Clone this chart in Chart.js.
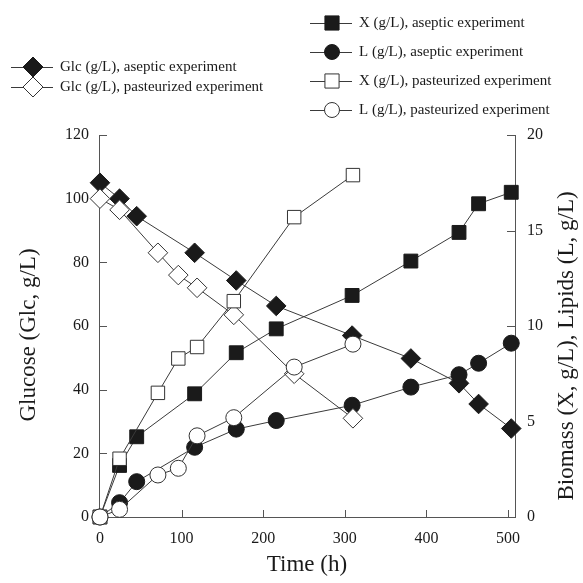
<!DOCTYPE html>
<html>
<head>
<meta charset="utf-8">
<script src="https://cdn.jsdelivr.net/npm/chart.js@4.4.1/dist/chart.umd.min.js"></script>
<style>
  html, body { margin: 0; padding: 0; background: #fff; }
  .chart__wrapper { width: 583px; height: 583px; }
</style>
</head>
<body>
<div class="chart__wrapper"><canvas id="fermentation-chart" width="583" height="583"></canvas></div>
<script>
  // sampling times (h)
  const asepticTime = [0, 24, 45, 116, 167, 216, 309, 381, 440, 464, 504];
  const pasteurizedTime = [0, 24, 71, 96, 119, 164, 238, 310];

  // aseptic experiment
  const glcAseptic = [105, 100, 94.5, 83, 74.3, 66.3, 57, 49.8, 42, 35.5, 27.8];
  const xAseptic = [0, 2.7, 4.2, 6.45, 8.6, 9.85, 11.6, 13.4, 14.9, 16.4, 17.0];
  const lAseptic = [0, 0.75, 1.85, 3.65, 4.6, 5.05, 5.85, 6.8, 7.45, 8.05, 9.1];

  // pasteurized experiment
  const glcPasteurized = [100, 96.5, 83, 76, 72, 63.5, 45, 31];
  const xPasteurized = [0, 3.05, 6.5, 8.3, 8.9, 11.3, 15.7, 17.9];
  const lPasteurized = [0, 0.4, 2.2, 2.55, 4.25, 5.2, 7.85, 9.05];

  const timeTicks = [0, 100, 200, 300, 400, 500];
  const glcTicks = [0, 20, 40, 60, 80, 100, 120];
  const biomassTicks = [0, 5, 10, 15, 20];

  const serif = '"Liberation Serif", "Times New Roman", serif';
  const ink = "#1a1a1a";
  const lineColor = "#3a3a3a";
  const axisColor = "#555";

  const toPoints = (times, values) => times.map((t, i) => ({ x: t, y: values[i] }));

  const series = [
    { label: "L (g/L), pasteurized experiment", data: toPoints(pasteurizedTime, lPasteurized), axis: "y1", style: "circle", radius: 8, filled: false },
    { label: "X (g/L), pasteurized experiment", data: toPoints(pasteurizedTime, xPasteurized), axis: "y1", style: "rect", radius: 9.5, filled: false },
    { label: "Glc (g/L), pasteurized experiment", data: toPoints(pasteurizedTime, glcPasteurized), axis: "y", style: "rectRot", radius: 9.8, filled: false },
    { label: "L (g/L), aseptic experiment", data: toPoints(asepticTime, lAseptic), axis: "y1", style: "circle", radius: 8, filled: true },
    { label: "X (g/L), aseptic experiment", data: toPoints(asepticTime, xAseptic), axis: "y1", style: "rect", radius: 9.8, filled: true },
    { label: "Glc (g/L), aseptic experiment", data: toPoints(asepticTime, glcAseptic), axis: "y", style: "rectRot", radius: 9.8, filled: true },
  ];

  const legendGroups = [
    { x: 11, y: 67, gap: 20, labels: ["Glc (g/L), aseptic experiment", "Glc (g/L), pasteurized experiment"] },
    { x: 310, y: 23, gap: 29, labels: ["X (g/L), aseptic experiment", "L (g/L), aseptic experiment", "X (g/L), pasteurized experiment", "L (g/L), pasteurized experiment"] },
  ];

  const setTicks = (values) => (axis) => {
    axis.ticks = values.map((v) => ({ value: v }));
  };

  // ticks point into the plot
  const inwardTicks = {
    id: "inwardTicks",
    beforeDatasetsDraw(chart) {
      const { ctx, chartArea, scales } = chart;
      ctx.save();
      ctx.strokeStyle = axisColor;
      ctx.lineWidth = 1;
      ctx.beginPath();
      scales.x.ticks.forEach((t) => {
        const px = Math.round(scales.x.getPixelForValue(t.value)) + 0.5;
        ctx.moveTo(px, chartArea.bottom);
        ctx.lineTo(px, chartArea.bottom - 7);
      });
      scales.y.ticks.forEach((t) => {
        const py = Math.round(scales.y.getPixelForValue(t.value)) + 0.5;
        ctx.moveTo(chartArea.left, py);
        ctx.lineTo(chartArea.left + 8, py);
      });
      scales.y1.ticks.forEach((t) => {
        const py = Math.round(scales.y1.getPixelForValue(t.value)) + 0.5;
        ctx.moveTo(chartArea.right, py);
        ctx.lineTo(chartArea.right - 8, py);
      });
      ctx.stroke();
      ctx.restore();
    },
  };

  const sideTitles = {
    id: "sideTitles",
    afterDraw(chart) {
      const { ctx } = chart;
      ctx.save();
      ctx.fillStyle = ink;
      ctx.font = `23px ${serif}`;
      ctx.textAlign = "center";
      ctx.textBaseline = "middle";
      [["Glucose (Glc, g/L)", 29, 335], ["Biomass (X, g/L), Lipids (L, g/L)", 567, 346]].forEach(([text, x, y]) => {
        ctx.save();
        ctx.translate(x, y);
        ctx.rotate(-Math.PI / 2);
        ctx.fillText(text, 0, 0);
        ctx.restore();
      });
      ctx.restore();
    },
  };

  const splitLegend = {
    id: "splitLegend",
    afterDraw(chart) {
      const { ctx } = chart;
      ctx.save();
      ctx.font = `15px ${serif}`;
      ctx.textBaseline = "middle";
      legendGroups.forEach((group) => {
        group.labels.forEach((label, i) => {
          const s = series.find((d) => d.label === label);
          const y = group.y + i * group.gap;
          ctx.strokeStyle = lineColor;
          ctx.lineWidth = 1;
          ctx.beginPath();
          ctx.moveTo(group.x, y + 0.5);
          ctx.lineTo(group.x + 42, y + 0.5);
          ctx.stroke();
          ctx.fillStyle = s.filled ? ink : "#fff";
          ctx.strokeStyle = s.filled ? ink : "#333";
          Chart.helpers.drawPoint(ctx, { pointStyle: s.style, radius: s.style === "circle" ? 7.5 : 10, rotation: 0, borderWidth: 1 }, group.x + 22, y);
          ctx.fillStyle = ink;
          ctx.fillText(label, group.x + 49, y);
        });
      });
      ctx.restore();
    },
  };

  const datasets = series.map((s) => ({
    label: s.label,
    data: s.data,
    yAxisID: s.axis,
    borderColor: lineColor,
    borderWidth: 1,
    pointStyle: s.style,
    pointRadius: s.radius,
    pointBackgroundColor: s.filled ? ink : "#fff",
    pointBorderColor: s.filled ? ink : "#333",
    pointBorderWidth: 1,
    tension: 0,
    fill: false,
    clip: false,
  }));

  const tickFont = { family: serif, size: 16 };

  new Chart(document.getElementById("fermentation-chart"), {
    type: "line",
    data: { datasets },
    options: {
      responsive: false,
      animation: false,
      events: [],
      layout: { padding: { top: 135, left: 0, right: 0, bottom: 0 } },
      plugins: { legend: { display: false }, tooltip: { enabled: false } },
      scales: {
        x: {
          type: "linear",
          min: -1.2,
          max: 508.6,
          afterBuildTicks: setTicks(timeTicks),
          afterFit: (scale) => { scale.height = 66; },
          grid: { display: false, drawTicks: false },
          border: { display: true, color: axisColor, width: 1 },
          ticks: { font: tickFont, color: ink, padding: 12, maxRotation: 0 },
          title: { display: true, text: "Time (h)", font: { family: serif, size: 23 }, color: ink, padding: { top: 0, bottom: 4 } },
        },
        y: {
          position: "left",
          min: 0,
          max: 120,
          afterBuildTicks: setTicks(glcTicks),
          afterFit: (scale) => { scale.width = 99; },
          grid: { display: false, drawTicks: false },
          border: { display: true, color: axisColor, width: 1 },
          ticks: { font: tickFont, color: ink, padding: 10 },
        },
        y1: {
          position: "right",
          min: 0,
          max: 20,
          afterBuildTicks: setTicks(biomassTicks),
          afterFit: (scale) => { scale.width = 68; },
          grid: { display: false, drawTicks: false },
          border: { display: true, color: axisColor, width: 1 },
          ticks: { font: tickFont, color: ink, padding: 12 },
        },
      },
    },
    plugins: [inwardTicks, sideTitles, splitLegend],
  });
</script>
</body>
</html>
